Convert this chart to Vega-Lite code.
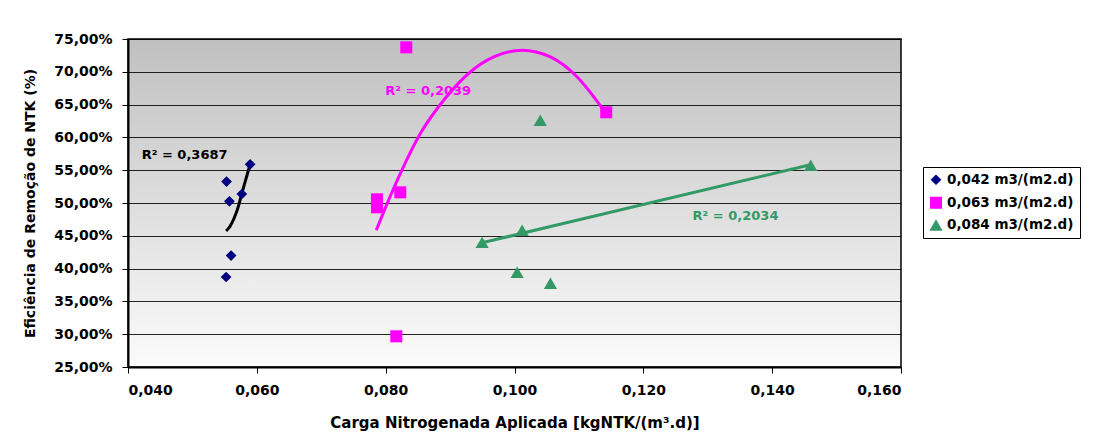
{
  "$schema": "https://vega.github.io/schema/vega-lite/v6.json",
  "width": 773,
  "height": 328,
  "autosize": {"type": "none"},
  "padding": {"left": 128, "top": 39, "right": 192, "bottom": 69},
  "background": "#ffffff",
  "datasets": {
    "points": [
      {"serie": "0,042 m3/(m2.d)", "carga": 0.0553, "eficiencia": 53.26},
      {"serie": "0,042 m3/(m2.d)", "carga": 0.05574, "eficiencia": 50.26},
      {"serie": "0,042 m3/(m2.d)", "carga": 0.05767, "eficiencia": 51.37},
      {"serie": "0,042 m3/(m2.d)", "carga": 0.05896, "eficiencia": 55.9},
      {"serie": "0,042 m3/(m2.d)", "carga": 0.056, "eficiencia": 41.98},
      {"serie": "0,042 m3/(m2.d)", "carga": 0.05523, "eficiencia": 38.72},
      {"serie": "0,063 m3/(m2.d)", "carga": 0.0832, "eficiencia": 73.73},
      {"serie": "0,063 m3/(m2.d)", "carga": 0.11424, "eficiencia": 63.83},
      {"serie": "0,063 m3/(m2.d)", "carga": 0.08227, "eficiencia": 51.63},
      {"serie": "0,063 m3/(m2.d)", "carga": 0.07865, "eficiencia": 50.56},
      {"serie": "0,063 m3/(m2.d)", "carga": 0.07865, "eficiencia": 49.34},
      {"serie": "0,063 m3/(m2.d)", "carga": 0.08165, "eficiencia": 29.68},
      {"serie": "0,084 m3/(m2.d)", "carga": 0.104, "eficiencia": 62.6},
      {"serie": "0,084 m3/(m2.d)", "carga": 0.09497, "eficiencia": 44.0},
      {"serie": "0,084 m3/(m2.d)", "carga": 0.10118, "eficiencia": 45.84},
      {"serie": "0,084 m3/(m2.d)", "carga": 0.10041, "eficiencia": 39.44},
      {"serie": "0,084 m3/(m2.d)", "carga": 0.10558, "eficiencia": 37.76},
      {"serie": "0,084 m3/(m2.d)", "carga": 0.14598, "eficiencia": 55.75}
    ],
    "trend": [
      {"serie": "0,042 m3/(m2.d)", "carga": 0.05523, "eficiencia": 45.73},
      {"serie": "0,042 m3/(m2.d)", "carga": 0.05585, "eficiencia": 46.45},
      {"serie": "0,042 m3/(m2.d)", "carga": 0.05647, "eficiencia": 47.67},
      {"serie": "0,042 m3/(m2.d)", "carga": 0.05709, "eficiencia": 49.34},
      {"serie": "0,042 m3/(m2.d)", "carga": 0.05772, "eficiencia": 51.63},
      {"serie": "0,042 m3/(m2.d)", "carga": 0.05834, "eficiencia": 53.77},
      {"serie": "0,042 m3/(m2.d)", "carga": 0.05896, "eficiencia": 55.9},
      {"serie": "0,063 m3/(m2.d)", "carga": 0.07854, "eficiencia": 45.84},
      {"serie": "0,063 m3/(m2.d)", "carga": 0.07916, "eficiencia": 47.36},
      {"serie": "0,063 m3/(m2.d)", "carga": 0.08227, "eficiencia": 54.48},
      {"serie": "0,063 m3/(m2.d)", "carga": 0.08538, "eficiencia": 60.58},
      {"serie": "0,063 m3/(m2.d)", "carga": 0.089, "eficiencia": 65.66},
      {"serie": "0,063 m3/(m2.d)", "carga": 0.09314, "eficiencia": 69.97},
      {"serie": "0,063 m3/(m2.d)", "carga": 0.09677, "eficiencia": 72.26},
      {"serie": "0,063 m3/(m2.d)", "carga": 0.10118, "eficiencia": 73.28},
      {"serie": "0,063 m3/(m2.d)", "carga": 0.10558, "eficiencia": 72.26},
      {"serie": "0,063 m3/(m2.d)", "carga": 0.10973, "eficiencia": 69.21},
      {"serie": "0,063 m3/(m2.d)", "carga": 0.11386, "eficiencia": 64.13},
      {"serie": "0,084 m3/(m2.d)", "carga": 0.0948, "eficiencia": 43.9},
      {"serie": "0,084 m3/(m2.d)", "carga": 0.1458, "eficiencia": 55.8}
    ],
    "labels": [
      {"serie": "0,042 m3/(m2.d)", "texto": "R² = 0,3687", "carga": 0.04213, "eficiencia": 57.27},
      {"serie": "0,063 m3/(m2.d)", "texto": "R² = 0,2039", "carga": 0.07994, "eficiencia": 67.03},
      {"serie": "0,084 m3/(m2.d)", "texto": "R² = 0,2034", "carga": 0.12765, "eficiencia": 47.97}
    ]
  },
  "config": {
    "view": {
      "stroke": "#000000",
      "strokeWidth": 1.5,
      "fill": {
        "gradient": "linear",
        "x1": 0, "y1": 0, "x2": 0, "y2": 1,
        "stops": [
          {"offset": 0, "color": "#c0c0c0"},
          {"offset": 1, "color": "#fbfbfb"}
        ]
      }
    },
    "font": "DejaVu Sans",
    "axis": {
      "labelFont": "DejaVu Sans",
      "labelFontSize": 14,
      "labelFontWeight": "bold",
      "labelColor": "#000000",
      "labelOverlap": false,
      "titleFont": "DejaVu Sans",
      "titleFontSize": 14,
      "titleFontWeight": "bold",
      "titleColor": "#000000",
      "domainColor": "#000000",
      "domainWidth": 2,
      "tickColor": "#000000",
      "tickWidth": 1,
      "tickSize": 6
    },
    "legend": {
      "orient": "none",
      "legendX": 795,
      "legendY": 128,
      "strokeColor": "#000000",
      "fillColor": "#ffffff",
      "padding": 6,
      "rowPadding": 8,
      "labelFont": "DejaVu Sans",
      "labelFontSize": 13.5,
      "labelFontWeight": "bold",
      "labelColor": "#000000",
      "labelOffset": 4,
      "symbolOpacity": 1,
      "symbolStrokeWidth": 0
    }
  },
  "layer": [
    {
      "data": {"name": "trend"},
      "transform": [{"filter": "datum.serie == '0,042 m3/(m2.d)'"}],
      "mark": {"type": "line", "color": "#000000", "strokeWidth": 3, "interpolate": "monotone"},
      "encoding": {
        "x": {"field": "carga", "type": "quantitative"},
        "y": {"field": "eficiencia", "type": "quantitative"}
      }
    },
    {
      "data": {"name": "trend"},
      "transform": [{"filter": "datum.serie == '0,063 m3/(m2.d)'"}],
      "mark": {"type": "line", "color": "#ff00ff", "strokeWidth": 3, "interpolate": "monotone"},
      "encoding": {
        "x": {"field": "carga", "type": "quantitative"},
        "y": {"field": "eficiencia", "type": "quantitative"}
      }
    },
    {
      "data": {"name": "trend"},
      "transform": [{"filter": "datum.serie == '0,084 m3/(m2.d)'"}],
      "mark": {"type": "line", "color": "#339966", "strokeWidth": 3},
      "encoding": {
        "x": {"field": "carga", "type": "quantitative"},
        "y": {"field": "eficiencia", "type": "quantitative"}
      }
    },
    {
      "data": {"name": "points"},
      "mark": {"type": "point", "filled": true, "opacity": 1},
      "encoding": {
        "x": {
          "field": "carga",
          "type": "quantitative",
          "scale": {"domain": [0.04, 0.16], "nice": false, "zero": false},
          "axis": {
            "title": "Carga Nitrogenada Aplicada [kgNTK/(m³.d)]",
            "titleFontSize": 15,
            "values": [0.04, 0.06, 0.08, 0.1, 0.12, 0.14, 0.16],
            "tickCount": 7,
            "labelExpr": "replace(format(datum.value, '.3f'), '.', ',')",
            "grid": false,
            "labelPadding": 10,
            "titlePadding": 18
          }
        },
        "y": {
          "field": "eficiencia",
          "type": "quantitative",
          "scale": {"domain": [25, 75], "nice": false, "zero": false},
          "axis": {
            "title": "Eficiência de Remoção de NTK (%)",
            "values": [25, 30, 35, 40, 45, 50, 55, 60, 65, 70, 75],
            "tickCount": 11,
            "labelExpr": "replace(format(datum.value, '.2f'), '.', ',') + '%'",
            "grid": true,
            "gridColor": "#000000",
            "gridWidth": 1,
            "gridOpacity": 0.85,
            "labelPadding": 10,
            "titlePadding": 16
          }
        },
        "color": {
          "field": "serie",
          "type": "nominal",
          "scale": {"domain": ["0,042 m3/(m2.d)", "0,063 m3/(m2.d)", "0,084 m3/(m2.d)"], "range": ["#000080", "#ff00ff", "#339966"]},
          "legend": {"title": null}
        },
        "shape": {
          "field": "serie",
          "type": "nominal",
          "scale": {"domain": ["0,042 m3/(m2.d)", "0,063 m3/(m2.d)", "0,084 m3/(m2.d)"], "range": ["diamond", "square", "triangle-up"]},
          "legend": {"title": null}
        },
        "size": {
          "field": "serie",
          "type": "ordinal",
          "scale": {"domain": ["0,042 m3/(m2.d)", "0,063 m3/(m2.d)", "0,084 m3/(m2.d)"], "range": [115, 175, 125]},
          "legend": {"title": null}
        }
      }
    },
    {
      "data": {"name": "labels"},
      "transform": [{"filter": "datum.serie == '0,042 m3/(m2.d)'"}],
      "mark": {"type": "text", "align": "left", "baseline": "middle", "font": "DejaVu Sans", "fontSize": 13, "fontWeight": "bold", "color": "#000000"},
      "encoding": {
        "x": {"field": "carga", "type": "quantitative"},
        "y": {"field": "eficiencia", "type": "quantitative"},
        "text": {"field": "texto"}
      }
    },
    {
      "data": {"name": "labels"},
      "transform": [{"filter": "datum.serie == '0,063 m3/(m2.d)'"}],
      "mark": {"type": "text", "align": "left", "baseline": "middle", "font": "DejaVu Sans", "fontSize": 13, "fontWeight": "bold", "color": "#ff00ff"},
      "encoding": {
        "x": {"field": "carga", "type": "quantitative"},
        "y": {"field": "eficiencia", "type": "quantitative"},
        "text": {"field": "texto"}
      }
    },
    {
      "data": {"name": "labels"},
      "transform": [{"filter": "datum.serie == '0,084 m3/(m2.d)'"}],
      "mark": {"type": "text", "align": "left", "baseline": "middle", "font": "DejaVu Sans", "fontSize": 13, "fontWeight": "bold", "color": "#339966"},
      "encoding": {
        "x": {"field": "carga", "type": "quantitative"},
        "y": {"field": "eficiencia", "type": "quantitative"},
        "text": {"field": "texto"}
      }
    }
  ]
}
